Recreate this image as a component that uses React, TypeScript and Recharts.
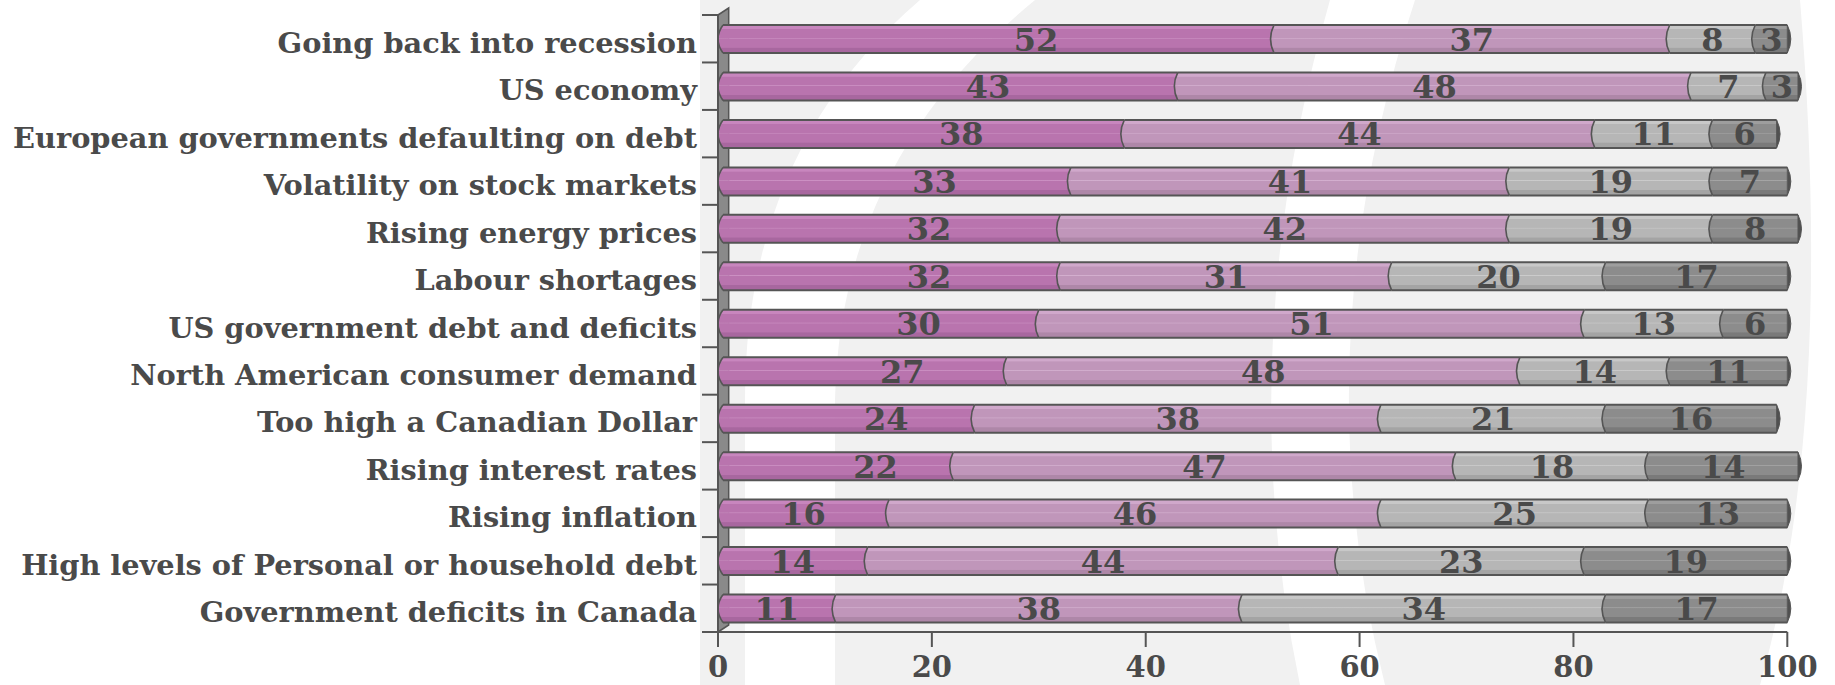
import { BarChart, Bar, XAxis, YAxis, ReferenceArea, LabelList } from "recharts";

const categories = [
  "Going back into recession",
  "US economy",
  "European governments defaulting on debt",
  "Volatility on stock markets",
  "Rising energy prices",
  "Labour shortages",
  "US government debt and deficits",
  "North American consumer demand",
  "Too high a Canadian Dollar",
  "Rising interest rates",
  "Rising inflation",
  "High levels of Personal or household debt",
  "Government deficits in Canada",
];

const seriesOne = [52, 43, 38, 33, 32, 32, 30, 27, 24, 22, 16, 14, 11];
const seriesTwo = [37, 48, 44, 41, 42, 31, 51, 48, 38, 47, 46, 44, 38];
const seriesThree = [8, 7, 11, 19, 19, 20, 13, 14, 21, 18, 25, 23, 34];
const seriesFour = [3, 3, 6, 7, 8, 17, 6, 11, 16, 14, 13, 19, 17];

const xTicks = [0, 20, 40, 60, 80, 100];

const data = categories.map((name, i) => ({
  name,
  s1: seriesOne[i],
  s2: seriesTwo[i],
  s3: seriesThree[i],
  s4: seriesFour[i],
}));

const W = 1835;
const H = 685;
const MARGIN = { top: 15, right: 37, bottom: 8, left: 0 };
const Y_AXIS_W = 718;
const X_AXIS_H = 45;
const BAND = (H - MARGIN.top - MARGIN.bottom - X_AXIS_H) / categories.length;

const FONT = "'DejaVu Serif', serif";
const INK = "#4a4a4a";
const EDGE = "#555555";

const gradients = [
  { id: "g1", top: "#c886be", body: "#b974ae", low: "#a8679f" },
  { id: "g2", top: "#d0a8cb", body: "#c096ba", low: "#ae87a8" },
  { id: "g3", top: "#c8c8c8", body: "#b6b6b6", low: "#a4a4a4" },
  { id: "g4", top: "#9e9e9e", body: "#8c8c8c", low: "#7a7a7a" },
];

function makeSegment(series: number) {
  return (props: any) => {
    const { x: rawX, y, width: rawW, height } = props;
    if (!rawW || rawW <= 0) return <g />;
    // the first segment's rounded cap sits just inside the axis wall
    const inset = series === 0 ? 5 : 0;
    const x = rawX + inset;
    const width = rawW - inset;
    const b = series === 0 ? 5 : 3.5;
    const d = `M${x},${y} L${x + width},${y} L${x + width},${y + height} L${x},${y + height} Q${x - 2 * b},${y + height / 2} ${x},${y} Z`;
    const curve = `M${x},${y} Q${x - 2 * b},${y + height / 2} ${x},${y + height}`;
    return (
      <g>
        <path d={d} fill={`url(#${gradients[series].id})`} />
        <path d={curve} fill="none" stroke={EDGE} strokeWidth={1.6} />
        <line x1={x} x2={x + width} y1={y} y2={y} stroke={EDGE} strokeWidth={2} />
        <line x1={x} x2={x + width} y1={y + height} y2={y + height} stroke={EDGE} strokeWidth={2} />
        {series === 3 && (
          <path
            d={`M${x + width},${y} Q${x + width + 7},${y + height / 2} ${x + width},${y + height} Z`}
            fill="#505050"
            stroke={EDGE}
            strokeWidth={1}
          />
        )}
      </g>
    );
  };
}

function makeValueLabel(series: number) {
  return (props: any) => {
    const { x, y, width, height, value } = props;
    const shift = series === 0 && width > 200 ? 40 : 0;
    return (
      <text
        x={x + width / 2 + shift}
        y={y + height / 2}
        dy={11.5}
        textAnchor="middle"
        fontFamily={FONT}
        fontWeight="bold"
        fontSize={32}
        fill={INK}
      >
        {value}
      </text>
    );
  };
}

function CategoryTick(props: any) {
  const { x, y, payload } = props;
  const axisX = x + 21;
  return (
    <g>
      <line x1={axisX - 16} x2={axisX} y1={y - BAND / 2} y2={y - BAND / 2} stroke={EDGE} strokeWidth={2} />
      <text
        x={x}
        y={y}
        dy={14}
        textAnchor="end"
        fontFamily={FONT}
        fontWeight="bold"
        fontSize={28.8}
        fill={INK}
      >
        {payload.value}
      </text>
    </g>
  );
}

function Wall(props: any) {
  const { x, y, width, height } = props;
  const s = 7;
  return (
    <polygon
      points={`${x},${y} ${x + width},${y - s} ${x + width},${y + height - s} ${x},${y + height}`}
      fill="#8a8a8a"
      stroke={EDGE}
      strokeWidth={1.5}
    />
  );
}

function BaseLine(props: any) {
  const { x, y, width, height } = props;
  return (
    <line x1={x - 16} x2={x + width} y1={y + height} y2={y + height} stroke={EDGE} strokeWidth={2} />
  );
}

function Backdrop() {
  return (
    <svg width={W} height={H} style={{ position: "absolute", left: 0, top: 0 }}>
      <rect x={0} y={0} width={W} height={H} fill="#ffffff" />
      <rect x={700} y={0} width={W - 700} height={H} fill="#f1f1f1" />
      <path d="M745,685 L745,400 Q745,150 920,0 L1035,0 Q840,160 835,400 L835,685 Z" fill="#ffffff" />
      <path d="M1300,685 Q1230,350 1330,0 L1415,0 Q1300,350 1385,685 Z" fill="#ffffff" />
      <path d="M1800,0 L1835,0 L1835,685 L1760,685 Q1835,420 1800,0 Z" fill="#ffffff" />
    </svg>
  );
}

export default function App() {
  return (
    <div style={{ position: "absolute", left: 0, top: 0, width: W, height: H }}>
      <Backdrop />
      <div style={{ position: "absolute", left: 0, top: 0 }}>
        <BarChart width={W} height={H} data={data} layout="vertical" margin={MARGIN}>
          <defs>
            {gradients.map((g) => (
              <linearGradient key={g.id} id={g.id} x1="0" y1="0" x2="0" y2="1">
                <stop offset="0" stopColor={g.top} />
                <stop offset="0.14" stopColor={g.top} />
                <stop offset="0.16" stopColor={g.body} />
                <stop offset="0.45" stopColor={g.body} />
                <stop offset="0.47" stopColor={g.top} stopOpacity={0.9} />
                <stop offset="0.5" stopColor={g.body} />
                <stop offset="0.8" stopColor={g.body} />
                <stop offset="0.82" stopColor={g.low} />
                <stop offset="1" stopColor={g.low} />
              </linearGradient>
            ))}
          </defs>
          <XAxis
            type="number"
            domain={[0, 101]}
            ticks={xTicks}
            axisLine={false}
            tickSize={15}
            tickMargin={9}
            tickLine={{ stroke: EDGE, strokeWidth: 2 }}
            height={X_AXIS_H}
            tick={{ fontFamily: FONT, fontWeight: "bold", fontSize: 29, fill: INK }}
          />
          <YAxis
            type="category"
            dataKey="name"
            width={Y_AXIS_W}
            tickLine={false}
            tickSize={0}
            tickMargin={21}
            axisLine={{ stroke: EDGE, strokeWidth: 2 }}
            tick={<CategoryTick />}
            interval={0}
          />
          <ReferenceArea x1={0} x2={1} ifOverflow="visible" shape={<Wall />} />
          <ReferenceArea x1={0} x2={100} ifOverflow="visible" shape={<BaseLine />} />
          {(["s1", "s2", "s3", "s4"] as const).map((key, i) => (
            <Bar
              key={key}
              dataKey={key}
              stackId="a"
              barSize={28}
              isAnimationActive={false}
              shape={makeSegment(i)}
            >
              <LabelList dataKey={key} content={makeValueLabel(i)} />
            </Bar>
          ))}
        </BarChart>
      </div>
    </div>
  );
}
